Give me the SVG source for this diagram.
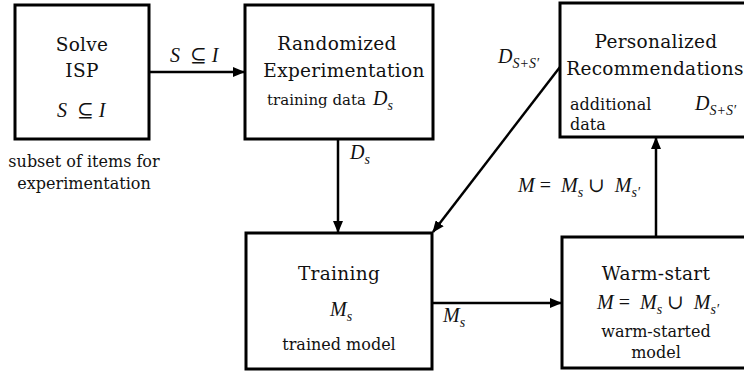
<svg xmlns="http://www.w3.org/2000/svg" width="744" height="371" viewBox="0 0 744 371">
<defs>
<marker id="ah" markerWidth="12" markerHeight="10" refX="11" refY="5" orient="auto" markerUnits="userSpaceOnUse">
<path d="M0,0 L12,5 L0,10 Z" fill="#000"/>
</marker>
<style>
.box{fill:#fff;stroke:#000;stroke-width:3}
.edge{fill:none;stroke:#000;stroke-width:2.5;marker-end:url(#ah)}
text{font-family:"DejaVu Serif","Liberation Serif",serif;fill:#111}
.c{text-anchor:middle}
.title{font-size:18.5px;letter-spacing:0.3px}
.body{font-size:16px}
.m{font-family:"Liberation Serif","DejaVu Serif",serif;font-style:italic;font-size:20px}
.u{font-style:normal}
.sub{font-size:14px}
</style>
</defs>
<rect width="744" height="371" fill="#fff"/>

<g id="connectors">
<line class="edge" x1="149" y1="72" x2="244" y2="72"/>
<line class="edge" x1="338" y1="139" x2="338" y2="232"/>
<line class="edge" x1="432" y1="303" x2="561" y2="303"/>
<line class="edge" x1="656" y1="237" x2="656" y2="138"/>
<line class="edge" x1="560" y1="67" x2="433" y2="232"/>
<text class="m" x="170" y="62">S<tspan class="u" xml:space="preserve">  ⊆ </tspan>I</text>
<text class="m" x="350" y="159">D<tspan class="sub" dy="5">s</tspan></text>
<text class="m" x="443" y="322">M<tspan class="sub" dy="5">s</tspan></text>
<text class="m" x="498" y="63">D<tspan class="sub" dy="5">S+S′</tspan></text>
<text class="m" x="518" y="192" xml:space="preserve">M <tspan class="u">=  </tspan>M<tspan class="sub" dy="5">s</tspan><tspan class="u" dy="-5"> ∪  </tspan>M<tspan class="sub" dy="5">s′</tspan></text>
</g>

<g id="solve">
<rect class="box" x="15" y="5" width="134" height="134"/>
<text class="c title" x="82" y="51">Solve</text>
<text class="c title" x="82" y="77">ISP</text>
<text class="m" x="57" y="117">S<tspan class="u" xml:space="preserve">  ⊆ </tspan>I</text>
<text class="c body" x="84" y="167">subset of items for</text>
<text class="c body" x="84" y="189">experimentation</text>
</g>

<g id="randomized">
<rect class="box" x="245" y="5" width="188" height="134"/>
<text class="c title" x="337" y="50">Randomized</text>
<text class="c title" x="344" y="77">Experimentation</text>
<text class="body" x="267" y="105" style="font-size:15px">training data</text>
<text class="m" x="373" y="105">D<tspan class="sub" dy="5">s</tspan></text>
</g>

<g id="personalized">
<rect class="box" x="560" y="3" width="190" height="134"/>
<text class="c title" x="656" y="48">Personalized</text>
<text class="c title" x="655" y="75">Recommendations</text>
<text class="body" x="570" y="110">additional</text>
<text class="body" x="570" y="130">data</text>
<text class="m" x="695" y="110">D<tspan class="sub" dy="5">S+S′</tspan></text>
</g>

<g id="training">
<rect class="box" x="246" y="233" width="186" height="136"/>
<text class="c title" x="339" y="280">Training</text>
<text class="m" x="330" y="316">M<tspan class="sub" dy="5">s</tspan></text>
<text class="c body" x="339" y="350">trained model</text>
</g>

<g id="warmstart">
<rect class="box" x="562" y="237" width="190" height="131"/>
<text class="c title" x="656" y="280">Warm-start</text>
<text class="m" x="597" y="309" xml:space="preserve">M <tspan class="u">=  </tspan>M<tspan class="sub" dy="5">s</tspan><tspan class="u" dy="-5"> ∪  </tspan>M<tspan class="sub" dy="5">s′</tspan></text>
<text class="c body" x="656" y="337">warm-started</text>
<text class="c body" x="656" y="358">model</text>
</g>
</svg>
